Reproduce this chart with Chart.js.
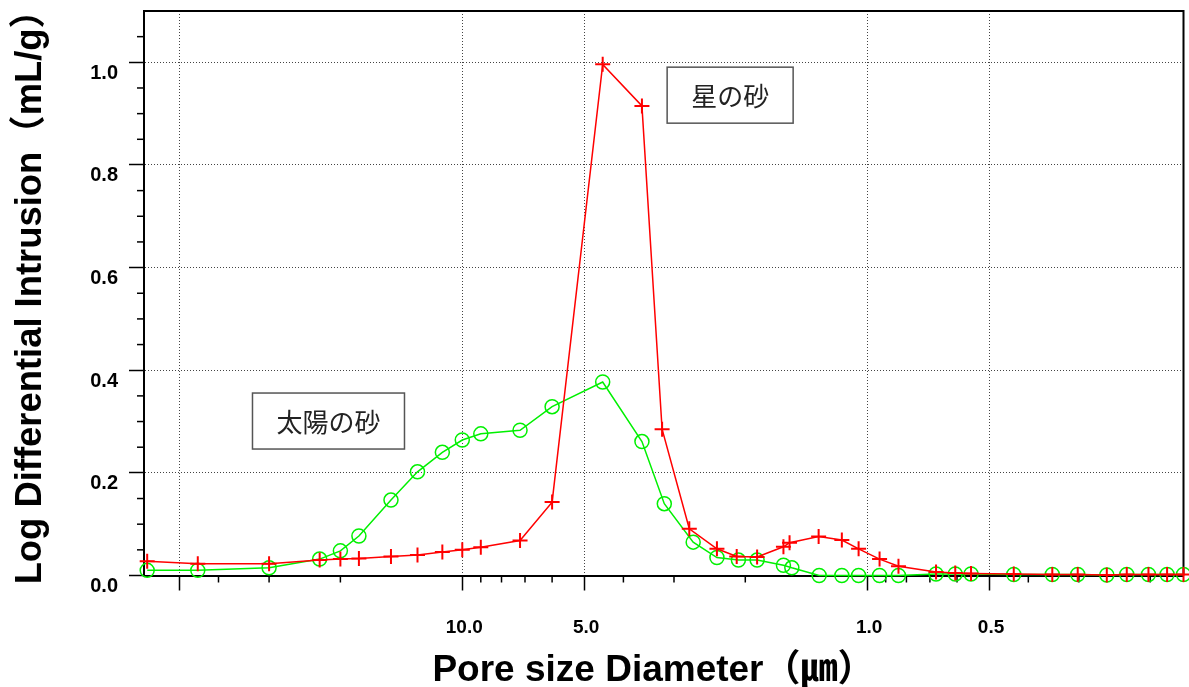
<!DOCTYPE html>
<html><head><meta charset="utf-8">
<script src="https://cdn.jsdelivr.net/npm/chart.js@4.4.1/dist/chart.umd.min.js"></script>
<style>html,body{margin:0;padding:0;background:#fff;}#wrap{width:1189px;height:687px;}</style>
</head><body><div id="wrap"><canvas id="c" width="1189" height="687"></canvas></div>
<script>
// ---- data (pore diameter in µm, log differential intrusion in mL/g) ----
const redName = '星の砂';
const redDiam = [60, 45, 30, 22.5, 20, 18, 15, 12.9, 11.2, 10, 9.0, 7.2, 6.0, 4.5, 3.6, 3.21, 2.75, 2.35, 2.1, 1.87, 1.61, 1.555, 1.318, 1.155, 1.05, 0.932, 0.837, 0.676, 0.606, 0.554, 0.4345, 0.349, 0.302, 0.256, 0.2285, 0.202, 0.1817, 0.1655];
const redVals = [0.028, 0.023, 0.023, 0.030, 0.032, 0.033, 0.037, 0.040, 0.046, 0.050, 0.055, 0.068, 0.143, 0.996, 0.915, 0.285, 0.091, 0.052, 0.037, 0.036, 0.056, 0.064, 0.076, 0.069, 0.052, 0.032, 0.018, 0.007, 0.005, 0.004, 0.003, 0.002, 0.002, 0.001, 0.002, 0.002, 0.002, 0.002];
const greenName = '太陽の砂';
const greenDiam = [60, 45, 30, 22.5, 20, 18, 15, 12.9, 11.2, 10, 9.0, 7.2, 6.0, 4.5, 3.6, 3.17, 2.69, 2.35, 2.08, 1.87, 1.61, 1.535, 1.314, 1.155, 1.05, 0.932, 0.837, 0.676, 0.606, 0.554, 0.4345, 0.349, 0.302, 0.256, 0.2285, 0.202, 0.1817, 0.1655];
const greenVals = [0.010, 0.010, 0.015, 0.032, 0.048, 0.077, 0.147, 0.202, 0.240, 0.264, 0.276, 0.283, 0.329, 0.377, 0.261, 0.140, 0.065, 0.035, 0.030, 0.030, 0.020, 0.015, 0.000, 0.000, 0.000, 0.000, 0.000, 0.003, 0.003, 0.003, 0.002, 0.002, 0.002, 0.001, 0.002, 0.002, 0.002, 0.002];

// ---- axes ----
const xMin = 0.1655, xMax = 61.1;
const xMajorTicks = [50, 10, 5, 1, 0.5];
const xLabelTicks = [10, 5, 1, 0.5];
const xLabelText = ['10.0', '5.0', '1.0', '0.5'];
const xMinorTicks = [40, 30, 20, 9, 8, 7, 6, 4, 3, 2, 0.9, 0.8, 0.7, 0.6, 0.4, 0.3, 0.2];
const yMin = 0, yMax = 1.1;
const yMajorTicks = [0, 0.2, 0.4, 0.6, 0.8, 1.0];
const yLabelText = ['0.0', '0.2', '0.4', '0.6', '0.8', '1.0'];
const yMinorTicks = [0.05, 0.1, 0.15, 0.25, 0.3, 0.35, 0.45, 0.5, 0.55, 0.65, 0.7, 0.75, 0.85, 0.9, 0.95, 1.05];
const xTitle = 'Pore size Diameter（㎛）  ';
const yTitle = ' Log Differential Intrusion（mL/g）';

// ---- annotation boxes (positioned in data units) ----
const noteTexts = [redName, greenName];
const noteDiam = [2.18, 21.4];
const noteVals = [0.936, 0.301];

const FONT = "'Liberation Sans', Arial, 'Noto Sans CJK JP', sans-serif";
Chart.defaults.font.family = FONT;
Chart.defaults.color = '#000';
// markers may overhang the plot frame, as in the original; don't shrink the plot area for them
Chart.LineController.prototype.getMaxOverflow = function () { return 0; };

const overlay = {
  id: 'overlay',
  beforeDatasetsDraw(chart) {
    const {ctx, chartArea: a, scales: {x, y}} = chart;
    ctx.save();
    ctx.strokeStyle = '#000';
    ctx.lineWidth = 1.5;
    xMinorTicks.forEach(v => {
      const px = x.getPixelForValue(v);
      ctx.beginPath(); ctx.moveTo(px, a.bottom); ctx.lineTo(px, a.bottom + 7); ctx.stroke();
    });
    yMinorTicks.forEach(v => {
      const py = y.getPixelForValue(v);
      ctx.beginPath(); ctx.moveTo(a.left - 7, py); ctx.lineTo(a.left, py); ctx.stroke();
    });
    ctx.lineWidth = 2;
    ctx.beginPath(); ctx.moveTo(a.left, a.top); ctx.lineTo(a.right, a.top); ctx.lineTo(a.right, a.bottom); ctx.stroke();
    ctx.restore();
  },
  afterDatasetsDraw(chart) {
    const {ctx, scales: {x, y}} = chart;
    ctx.save();
    ctx.font = "26px 'Noto Sans CJK JP', sans-serif";
    ctx.textAlign = 'center';
    ctx.textBaseline = 'middle';
    noteTexts.forEach((t, i) => {
      const cx = x.getPixelForValue(noteDiam[i]);
      const cy = y.getPixelForValue(noteVals[i]);
      const w = ctx.measureText(t).width + 48, h = 56;
      ctx.fillStyle = '#fff';
      ctx.fillRect(cx - w / 2, cy - h / 2, w, h);
      ctx.strokeStyle = '#555';
      ctx.lineWidth = 1.5;
      ctx.strokeRect(cx - w / 2, cy - h / 2, w, h);
      ctx.fillStyle = '#222';
      ctx.fillText(t, cx, cy + 1);
    });
    ctx.restore();
  }
};

const zeroPad = s => { s.paddingTop = 0; s.paddingBottom = 0; s.paddingLeft = 0; s.paddingRight = 0; };

new Chart(document.getElementById('c'), {
  type: 'line',
  data: {
    datasets: [
      {
        label: redName,
        data: redDiam.map((d, i) => ({x: d, y: redVals[i]})),
        borderColor: '#ff0000', borderWidth: 1.5,
        pointStyle: 'cross', pointRadius: 7.5, pointBorderWidth: 2,
        pointBorderColor: '#ff0000', pointBackgroundColor: '#ff0000',
        tension: 0, clip: false, order: 1
      },
      {
        label: greenName,
        data: greenDiam.map((d, i) => ({x: d, y: greenVals[i]})),
        borderColor: '#00f000', borderWidth: 1.5,
        pointStyle: 'circle', pointRadius: 7, pointBorderWidth: 1.5,
        pointBorderColor: '#00f000', pointBackgroundColor: 'rgba(0,0,0,0)',
        tension: 0, clip: false, order: 2
      }
    ]
  },
  options: {
    responsive: false, animation: false, devicePixelRatio: 1,
    layout: {padding: {top: 11, right: 5.5, left: 0, bottom: 0}},
    plugins: {legend: {display: false}, tooltip: {enabled: false}},
    scales: {
      x: {
        type: 'logarithmic', reverse: true, min: xMin, max: xMax,
        afterBuildTicks: s => { s.ticks = xMajorTicks.map(v => ({value: v})); },
        afterFit: s => { s.height = 111.5; zeroPad(s); },
        ticks: {
          autoSkip: false, maxRotation: 0, minRotation: 0, padding: 26, labelOffset: 2,
          font: {size: 19, weight: 'bold'}, color: '#000',
          callback: v => { const i = xLabelTicks.findIndex(m => Math.abs(m - v) < 1e-9); return i >= 0 ? xLabelText[i] : ''; }
        },
        grid: {
          color: '#444', lineWidth: 1,
          drawTicks: true, tickLength: 15, tickWidth: 1.5, tickColor: '#000'
        },
        border: {display: true, color: '#000', width: 2, dash: [1, 2]},
        title: {display: true, text: xTitle, color: '#000', font: {size: 37, weight: 'bold', lineHeight: 0.9}, padding: 0}
      },
      y: {
        type: 'linear', min: yMin, max: yMax,
        afterBuildTicks: s => { s.ticks = yMajorTicks.map(v => ({value: v})); },
        afterFit: s => { s.width = 144; zeroPad(s); },
        ticks: {
          autoSkip: false, padding: 11, labelOffset: 11,
          font: {size: 20, weight: 'bold'}, color: '#000',
          callback: v => { const i = yMajorTicks.findIndex(m => Math.abs(m - v) < 1e-9); return i >= 0 ? yLabelText[i] : ''; }
        },
        grid: {
          color: c => (c.tick && c.tick.value > 1e-9) ? '#444' : 'rgba(0,0,0,0)', lineWidth: 1,
          drawTicks: true, tickLength: 15, tickWidth: 1.5, tickColor: '#000'
        },
        border: {display: true, color: '#000', width: 2, dash: [1, 2]},
        title: {display: true, text: yTitle, color: '#000', font: {size: 36.4, weight: 'bold', lineHeight: 1.2}, padding: {top: 9, bottom: 0}}
      }
    }
  },
  plugins: [overlay]
});
</script>
</body></html>
